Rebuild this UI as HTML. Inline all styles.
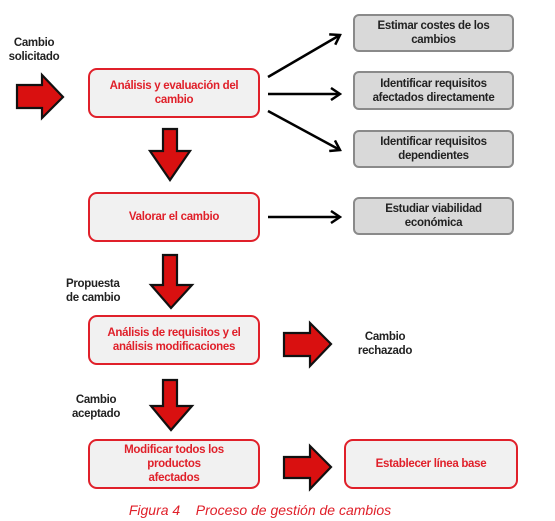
<!DOCTYPE html>
<html><head><meta charset="utf-8"><style>
body{margin:0;width:555px;height:521px;background:#fff;position:relative;overflow:hidden;font-family:"Liberation Sans",sans-serif;}
.b{position:absolute;box-sizing:border-box;display:flex;align-items:center;justify-content:center;text-align:center;font-weight:bold;font-size:11.5px;line-height:14px;letter-spacing:-0.3px}
.r{border:2px solid #e0202a;border-radius:9px;background:#f1f1f1;color:#e0202a}
.g{border:2px solid #8a8a8a;border-radius:6px;background:#d9d9d9;color:#222}
.t{position:absolute;font-weight:bold;font-size:11.5px;line-height:14px;color:#222;text-align:center;letter-spacing:-0.3px}
</style></head><body>
<svg width="555" height="521" style="position:absolute;left:0;top:0">
<defs><marker id="a" markerWidth="12" markerHeight="14" refX="10" refY="7" orient="auto" markerUnits="userSpaceOnUse"><path d="M1,1 L10,7 L1,13" fill="none" stroke="#000" stroke-width="2.5"/></marker></defs>
<g stroke="#000" stroke-width="2.5" fill="none">
<line x1="268" y1="77" x2="340" y2="35" marker-end="url(#a)"/>
<line x1="268" y1="94" x2="340" y2="94" marker-end="url(#a)"/>
<line x1="268" y1="111" x2="340" y2="150" marker-end="url(#a)"/>
<line x1="268" y1="217" x2="340" y2="217" marker-end="url(#a)"/>
</g>
<g fill="#d91010" stroke="#111" stroke-width="2.2">
<path d="M17,85 H42 V75 L63,97 L42,118 V108 H17 Z"/>
<path d="M163,129 H177 V151 H190 L170,180 L150,151 H163 Z"/>
<path d="M163,255 H177 V285 H192 L171,308 L151,285 H163 Z"/>
<path d="M163,380 H177 V406 H192 L171,430 L151,406 H163 Z"/>
<path d="M284,333 H310 V323 L331,344 L310,366 V356 H284 Z"/>
<path d="M284,457 H310 V446 L331,467 L310,489 V478 H284 Z"/>
</g>
</svg>
<div class="t" style="left:6px;top:36px;width:56px">Cambio<br>solicitado</div>
<div class="b r" style="left:88px;top:68px;width:172px;height:50px">Análisis y evaluación del<br>cambio</div>
<div class="b r" style="left:88px;top:192px;width:172px;height:50px">Valorar el cambio</div>
<div class="b r" style="left:88px;top:315px;width:172px;height:50px">Análisis de requisitos y el<br>análisis modificaciones</div>
<div class="b r" style="left:88px;top:439px;width:172px;height:50px">Modificar todos los<br>productos<br>afectados</div>
<div class="b r" style="left:344px;top:439px;width:174px;height:50px">Establecer línea base</div>
<div class="b g" style="left:353px;top:14px;width:161px;height:38px">Estimar costes de los<br>cambios</div>
<div class="b g" style="left:353px;top:71px;width:161px;height:39px">Identificar requisitos<br>afectados directamente</div>
<div class="b g" style="left:353px;top:130px;width:161px;height:38px">Identificar requisitos<br>dependientes</div>
<div class="b g" style="left:353px;top:197px;width:161px;height:38px">Estudiar viabilidad<br>económica</div>
<div class="t" style="left:66px;top:277px;text-align:left">Propuesta<br>de cambio</div>
<div class="t" style="left:355px;top:330px;width:60px">Cambio<br>rechazado</div>
<div class="t" style="left:70px;top:393px;width:52px">Cambio<br>aceptado</div>
<div style="position:absolute;left:0;width:520px;top:502px;text-align:center;color:#e0202a;font-style:italic;font-size:14px">Figura 4&nbsp;&nbsp;&nbsp; Proceso de gestión de cambios</div>
</body></html>
